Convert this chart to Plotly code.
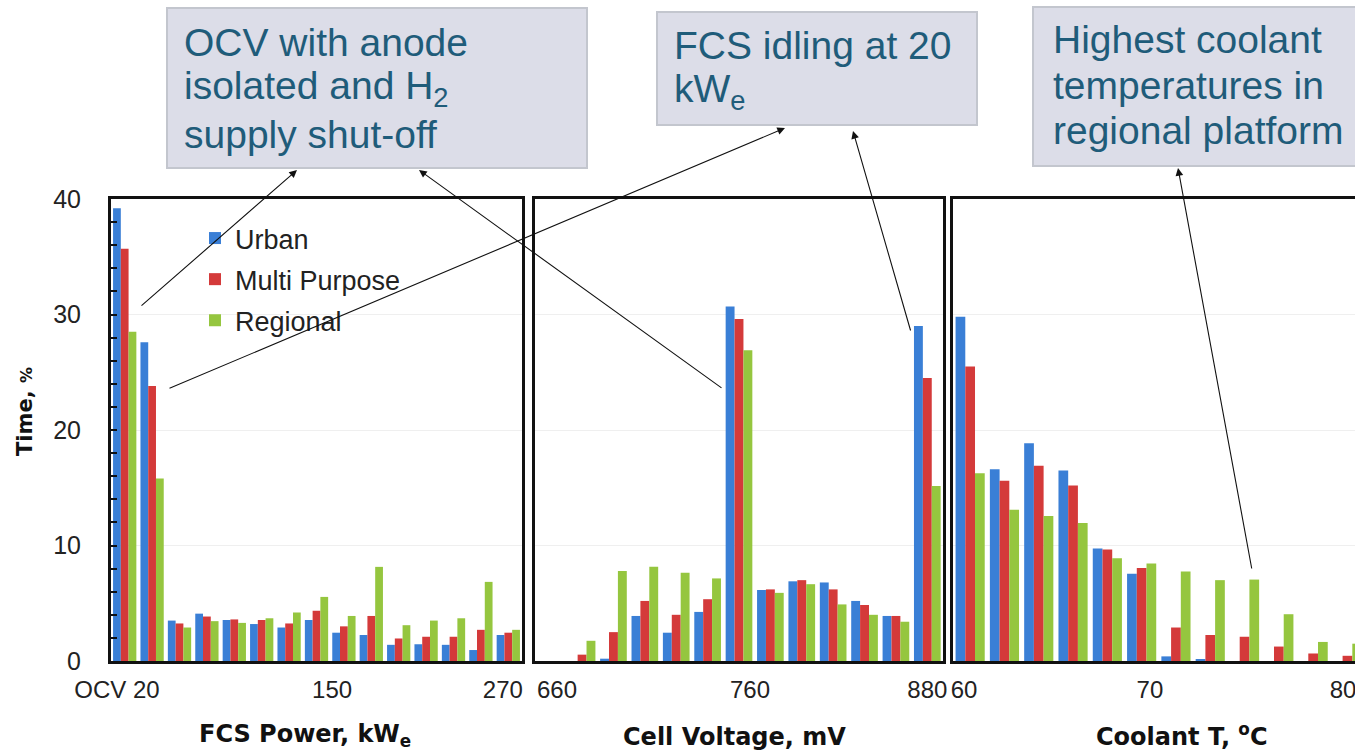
import plotly.graph_objects as go

# ---------------- data ----------------
series_names = ["Urban", "Multi Purpose", "Regional"]
series_colors = ["#3a7fd6", "#d43a3a", "#95c63f"]

# FCS power bins (OCV, 20, 40, ... kWe)
power_bins = ["OCV", "20", "40", "60", "80", "100", "120", "140", "160", "180",
              "200", "220", "240", "260", "280"]
power_urban = [39.2, 27.6, 3.5, 4.1, 3.55, 3.2, 2.9, 3.55, 2.45, 2.25, 1.4, 1.45, 1.4, 0.95, 2.25]
power_multi = [35.7, 23.8, 3.25, 3.85, 3.6, 3.55, 3.25, 4.35, 3.0, 3.9, 1.95, 2.1, 2.1, 2.7, 2.45]
power_regional = [28.5, 15.8, 2.9, 3.45, 3.3, 3.7, 4.2, 5.55, 3.9, 8.15, 3.1, 3.5, 3.7, 6.85, 2.7]
power_ticks = [-0.28, 7.57, 13.8]
power_ticktext = ["OCV 20", "150", "270"]

# Cell voltage bins (mV)
voltage_bins = ["640", "660", "680", "700", "720", "740", "760", "780", "800", "820",
                "840", "860", "880"]
voltage_urban = [0, 0, 0.2, 3.9, 2.45, 4.25, 30.7, 6.15, 6.9, 6.8, 5.2, 3.9, 29.0]
voltage_multi = [0, 0.55, 2.5, 5.2, 4.0, 5.35, 29.6, 6.2, 7.0, 6.2, 4.85, 3.9, 24.5]
voltage_regional = [0, 1.75, 7.8, 8.15, 7.65, 7.15, 26.9, 5.9, 6.65, 4.9, 4.0, 3.4, 15.15]
voltage_ticks = [0.2, 6.35, 12.0]
voltage_ticktext = ["660", "760", "880"]

# Coolant temperature bins (degC)
coolant_bins = ["60", "62", "64", "66", "68", "70", "72", "74", "76", "78", "80", "82"]
coolant_urban = [29.8, 16.6, 18.85, 16.5, 9.75, 7.55, 0.4, 0.1, 0, 0, 0, 0]
coolant_multi = [25.5, 15.6, 16.9, 15.2, 9.65, 8.05, 2.9, 2.25, 2.1, 1.25, 0.65, 0.45]
coolant_regional = [16.25, 13.1, 12.55, 11.95, 8.9, 8.45, 7.75, 7.0, 7.05, 4.05, 1.65, 1.5]
coolant_ticks = [-0.18, 5.24, 10.87]
coolant_ticktext = ["60", "70", "80"]

y_ticks = [0, 10, 20, 30, 40]

# ---------------- figure ----------------
W, H = 1355, 754


def px(x):
    return x / W


def py(y):
    return 1 - y / H


fig = go.Figure()

panels = [
    ("x", "y", power_bins, [power_urban, power_multi, power_regional]),
    ("x2", "y2", voltage_bins, [voltage_urban, voltage_multi, voltage_regional]),
    ("x3", "y3", coolant_bins, [coolant_urban, coolant_multi, coolant_regional]),
]
for pi, (xa, ya, bins, vals) in enumerate(panels):
    xs = list(range(len(bins)))
    for si, name in enumerate(series_names):
        fig.add_trace(go.Bar(
            x=xs, y=vals[si], name=name, xaxis=xa, yaxis=ya,
            marker=dict(color=series_colors[si], line=dict(width=0)),
            showlegend=(pi == 0), legendgroup=name,
            customdata=bins, hovertemplate="%{customdata}: %{y}%<extra>" + name + "</extra>",
        ))

tick_font = dict(family="Liberation Sans, Arial, sans-serif", size=24, color="#222")
ytick_font = dict(family="Liberation Sans, Arial, sans-serif", size=25, color="#222")
frame = dict(showline=True, linecolor="#111", linewidth=3, zeroline=False, automargin=False)

fig.update_layout(
    template="none",
    width=W, height=H, autosize=False,
    margin=dict(l=0, r=0, t=0, b=0, pad=0, autoexpand=False),
    paper_bgcolor="white", plot_bgcolor="white",
    barmode="group", bargap=0.15, bargroupgap=0.0,
    legend=dict(
        x=px(195), y=py(214), xanchor="left", yanchor="top",
        font=dict(family="Liberation Sans, Arial, sans-serif", size=27, color="#222"),
        bgcolor="rgba(0,0,0,0)", tracegroupgap=3, itemwidth=30,
    ),
    xaxis=dict(domain=[px(111), px(522)], range=[-0.5, 14.5], mirror=True, showgrid=False,
               tickmode="array", tickvals=power_ticks, ticktext=power_ticktext,
               ticks="", tickfont=tick_font, ticklabelstandoff=5, anchor="y",
               ticklabeloverflow="allow", **frame),
    xaxis2=dict(domain=[px(535), px(943)], range=[-0.5, 12.5], mirror=True, showgrid=False,
                tickmode="array", tickvals=voltage_ticks, ticktext=voltage_ticktext,
                ticks="", tickfont=tick_font, ticklabelstandoff=5, anchor="y2",
                ticklabeloverflow="allow", **frame),
    xaxis3=dict(domain=[px(953), 1.0], range=[-0.5, 11.22], mirror=True, showgrid=False,
                tickmode="array", tickvals=coolant_ticks, ticktext=coolant_ticktext,
                ticks="", tickfont=tick_font, ticklabelstandoff=5, anchor="y3",
                ticklabeloverflow="allow", **frame),
    yaxis=dict(domain=[py(661), py(199)], range=[0, 40], mirror=True, anchor="x",
               tickmode="array", tickvals=y_ticks, ticks="inside", ticklen=6, tickwidth=1.5,
               tickcolor="#111", tickfont=ytick_font, ticklabelstandoff=22,
               showgrid=True, gridcolor="#efefef", gridwidth=1,
               minor=dict(ticks="inside", dtick=2, ticklen=6, tickwidth=1.5, tickcolor="#111",
                          showgrid=False),
               **frame),
    yaxis2=dict(domain=[py(661), py(199)], range=[0, 40], mirror=True, anchor="x2",
                tickvals=y_ticks, showticklabels=False, ticks="",
                showgrid=True, gridcolor="#efefef", gridwidth=1, **frame),
    yaxis3=dict(domain=[py(661), py(199)], range=[0, 40], mirror=False, anchor="x3",
                tickvals=y_ticks, showticklabels=False, ticks="",
                showgrid=True, gridcolor="#efefef", gridwidth=1, **frame),
)

# ---------------- callout boxes ----------------
box_fill = "#dcdde8"
box_line = "#c3c6ce"
boxes = [(167, 8, 587, 168), (657, 12, 977, 125), (1033, 7, 1365, 166)]
for (x0, y0, x1, y1) in boxes:
    fig.add_shape(type="rect", xref="paper", yref="paper",
                  x0=px(x0), x1=px(x1), y0=py(y1), y1=py(y0),
                  fillcolor=box_fill, line=dict(color=box_line, width=2), layer="above")

callout_font = dict(family="Liberation Sans, Arial, sans-serif", size=39, color="#1f5c7a")
callout_lines = [
    (182, 42, "OCV with anode"),
    (182, 88, "isolated and H<sub>2</sub>"),
    (182, 134, "supply shut-off"),
    (672, 45, "FCS idling at 20"),
    (672, 91, "kW<sub>e</sub>"),
    (1051, 40, "Highest coolant"),
    (1051, 86, "temperatures in"),
    (1051, 131, "regional platform"),
]
for (x, y, t) in callout_lines:
    fig.add_annotation(xref="paper", yref="paper", x=px(x), y=py(y), text=t,
                       showarrow=False, xanchor="left", yanchor="middle",
                       font=callout_font, align="left")

# ---------------- arrows (tail -> head, pixels) ----------------
arrows = [
    ((140, 307), (297, 170)),
    ((723, 389), (419, 170)),
    ((168, 389), (785, 128)),
    ((911, 332), (853, 131)),
    ((1252, 570), (1178, 168)),
]
for (tx, ty), (hx, hy) in arrows:
    fig.add_annotation(xref="paper", yref="paper", x=px(hx), y=py(hy),
                       ax=tx - hx, ay=ty - hy, axref="pixel", ayref="pixel",
                       text="", showarrow=True, arrowhead=2, arrowsize=1.4,
                       arrowwidth=1.1, arrowcolor="#111", standoff=0, startstandoff=0)

# ---------------- axis titles ----------------
title_font = dict(family="DejaVu Sans, Liberation Sans, sans-serif", size=24, color="#111")
fig.add_annotation(xref="paper", yref="paper", x=px(25), y=py(412), textangle=-90,
                   xanchor="center", yanchor="middle",
                   text="<b>Time, <span style='font-size:16px'>%</span></b>", showarrow=False,
                   font=dict(family="DejaVu Sans, Liberation Sans, sans-serif", size=21, color="#111"))
fig.add_annotation(xref="paper", yref="paper", x=px(305), y=py(735),
                   xanchor="center", yanchor="middle",
                   text="<b>FCS Power, kW<sub>e</sub></b>", showarrow=False, font=title_font)
fig.add_annotation(xref="paper", yref="paper", x=px(734), y=py(737),
                   xanchor="center", yanchor="middle",
                   text="<b>Cell Voltage, mV</b>", showarrow=False, font=title_font)
fig.add_annotation(xref="paper", yref="paper", x=px(1182), y=py(735),
                   xanchor="center", yanchor="middle",
                   text="<b>Coolant T, <sup>o</sup>C</b>", showarrow=False, font=title_font)

fig.write_html("out.html")
